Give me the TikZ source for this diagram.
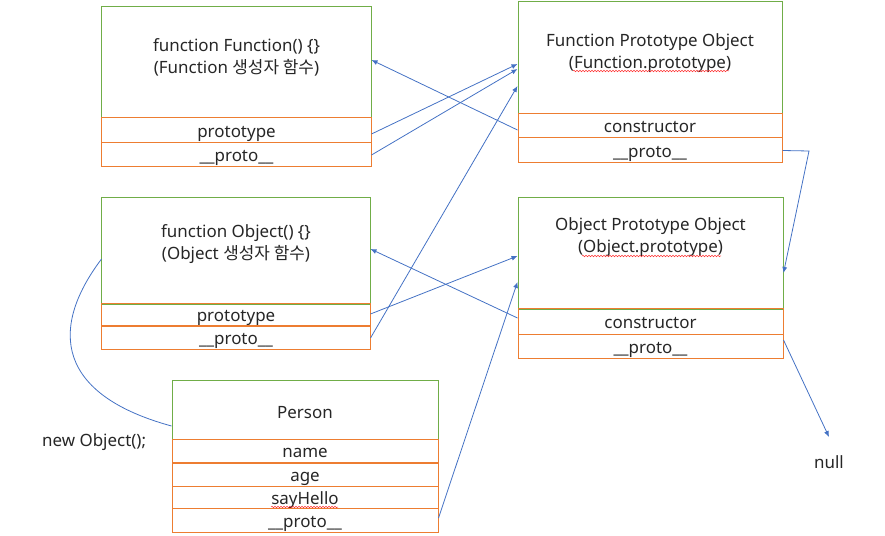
\documentclass[tikz,border=0pt]{standalone}
\usepackage{fontspec}
\setmainfont{Noto Sans}
\newfontfamily\kr{Noto Sans CJK KR}
\usetikzlibrary{arrows.meta,decorations.pathmorphing}
\definecolor{gr}{HTML}{70AD47}
\definecolor{og}{HTML}{ED7D31}
\definecolor{bl}{HTML}{4472C4}
\definecolor{tx}{HTML}{262626}
\begin{document}
\begin{tikzpicture}[x=1bp,y=-1bp,
  head/.style={draw=gr, line width=1bp, inner sep=0pt},
  rowbox/.style={draw=og, line width=1bp, inner sep=0pt, text=tx, text height=14bp, text depth=0pt, font=\fontsize{17}{20}\selectfont},
  lbl/.style={text=tx, align=center, inner sep=0pt, font=\fontsize{17}{22}\selectfont},
  link/.style={draw=bl, line width=0.8bp, -{Latex[length=6bp,width=5bp]}},
  plain/.style={draw=bl, line width=0.8bp},
  squiggle/.style={draw=red!80!white, line width=0.5bp, decorate, decoration={snake, segment length=3bp, amplitude=0.8bp}}
]
\useasboundingbox (0,0) rectangle (885,536);

% Function constructor
\node[head, minimum width=269bp, minimum height=111bp] (ff) at (236.5,62.5) {};
\node[lbl] (fft) at (236.5,57) {function Function() \{\}\\(Function {\kr 생성자 함수})};
\node[rowbox, minimum width=269bp, minimum height=25bp] (ffp) at (236.5,130.5) {prototype};
\node[rowbox, minimum width=269bp, minimum height=24bp] (ffq) at (236.5,155) {\_\_proto\_\_};

% Function prototype object
\node[head, minimum width=264bp, minimum height=112bp] (fp) at (650,58) {};
\node[lbl] (fpt) at (650,53) {Function Prototype Object\\(Function.prototype)};
\node[rowbox, minimum width=264bp, minimum height=24bp] (fpc) at (650,126) {constructor};
\node[rowbox, minimum width=264bp, minimum height=25bp] (fpq) at (650,150.5) {\_\_proto\_\_};

% Object constructor
\node[head, minimum width=268bp, minimum height=106bp] (of) at (236,251) {};
\node[lbl] (oft) at (236,244) {function Object() \{\}\\(Object {\kr 생성자 함수})};
\node[rowbox, minimum width=268bp, minimum height=22bp] (ofp) at (236,315) {prototype};
\node[rowbox, minimum width=268bp, minimum height=23bp] (ofq) at (236,337.5) {\_\_proto\_\_};

% Object prototype object
\node[head, minimum width=265bp, minimum height=111bp] (op) at (650.5,253.5) {};
\node[lbl] (opt) at (650.5,237) {Object Prototype Object\\(Object.prototype)};
\node[rowbox, minimum width=265bp, minimum height=25bp] (opc) at (650.5,321.5) {constructor};
\node[rowbox, minimum width=265bp, minimum height=24bp] (opq) at (650.5,346) {\_\_proto\_\_};

% Person
\node[head, minimum width=266bp, minimum height=59bp] (pt) at (305,409.5) {};
\node[lbl] (ptt) at (305,413) {Person};
\node[rowbox, minimum width=266bp, minimum height=23bp] (pn) at (305,450.5) {name};
\node[rowbox, minimum width=266bp, minimum height=23bp] (pa) at (305,474.5) {age};
\node[rowbox, minimum width=266bp, minimum height=22bp] (ps) at (305,497) {sayHello};
\node[rowbox, minimum width=266bp, minimum height=24bp] (pq) at (305,520) {\_\_proto\_\_};

% free texts
\node[lbl, anchor=west] (newobj) at (42,442) {new Object();};
\node[lbl] (null) at (829,462) {null};

% spell-check underlines
\path[squiggle] (573,71) -- (729,71);
\path[squiggle] (582,256) -- (721,256);
\path[squiggle] (271,507) -- (338,507);

% connectors
\coordinate (bend) at (809,151);
\coordinate (nullend) at (829,437);
\draw[link] ([yshift=-3.5bp]ffp.east) -- ([yshift=-6bp]fp.west);
\draw[link] ([yshift=-0bp]ffq.east) -- ([yshift=-11bp]fp.west);
\draw[link] ([yshift=-4bp]fpc.west) -- ([yshift=2.5bp]ff.east);
\draw[link] ([yshift=-0.5bp]ofq.east) -- ([yshift=-28bp]fp.west);
\draw[link] ([yshift=1bp]ofp.east) -- ([yshift=-2.5bp]op.west);
\draw[link] ([yshift=3.5bp]opc.west) -- ([yshift=2bp]of.east);
\draw[link] ([yshift=2bp]pq.east) -- ([yshift=-28.5bp]op.west);
\draw[link] (fpq.east) -- (bend) -- ([yshift=-19.5bp]op.east);
\draw[link] ([yshift=6bp]opq.east) -- (nullend);
\draw[plain] ([yshift=-8bp]of.west) .. controls (48,330) and (58,395) .. ([yshift=-16.5bp]pt.west);
\end{tikzpicture}
\end{document}
